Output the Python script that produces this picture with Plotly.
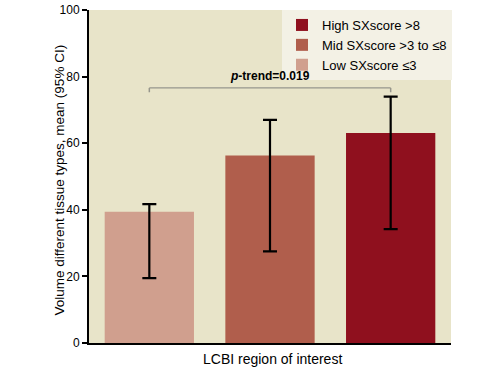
import plotly.graph_objects as go

groups = ["Low SXscore ≤3", "Mid SXscore >3 to ≤8", "High SXscore >8"]
means = [39.4, 56.3, 63.1]
ci_upper = [41.7, 67.0, 74.0]
ci_lower = [19.5, 27.5, 34.2]
colors = ["#d09f8e", "#b05e4c", "#8f101e"]
x_cats = ["Low", "Mid", "High"]
p_text = "<i>p</i>-trend=0.019"
y_title = "Volume different tissue types, mean (95% CI)"
x_title = "LCBI region of interest"

FONT = "Liberation Sans, Arial, sans-serif"

fig = go.Figure()
for g, m, u, l, c, xc in zip(groups, means, ci_upper, ci_lower, colors, x_cats):
    fig.add_trace(go.Bar(
        x=[xc], y=[m], name=g, width=0.74,
        marker=dict(color=c, line=dict(width=0)),
        error_y=dict(type="data", symmetric=False, array=[u - m], arrayminus=[m - l],
                     color="black", thickness=2.2, width=7),
    ))

# p-trend bracket
yb = 76.6
bc = "#96968c"
fig.add_shape(type="line", x0=0, x1=2, y0=yb, y1=yb, xref="x", yref="y",
              line=dict(color=bc, width=1.2))
fig.add_shape(type="line", x0=0, x1=0, y0=yb, y1=yb - 1.3, xref="x", yref="y",
              line=dict(color=bc, width=1.5))
fig.add_shape(type="line", x0=2, x1=2, y0=yb, y1=yb - 1.3, xref="x", yref="y",
              line=dict(color=bc, width=1.5))
fig.add_annotation(x=1, y=yb + 0.9, xref="x", yref="y", text="<b>" + p_text + "</b>",
                   showarrow=False, yanchor="bottom",
                   font=dict(family=FONT, size=12, color="black"))

# axis titles
fig.add_annotation(x=0, y=0.5, xref="paper", yref="paper", text=y_title,
                   textangle=-90, showarrow=False, xanchor="center", yanchor="middle",
                   xshift=-30, yshift=-4,
                   font=dict(family=FONT, size=13.5, color="black"))
fig.add_annotation(x=0.5, y=0, xref="paper", yref="paper", text=x_title,
                   showarrow=False, xanchor="center", yanchor="middle",
                   xshift=2, yshift=-16,
                   font=dict(family=FONT, size=14, color="black"))

fig.update_layout(
    width=502, height=372,
    margin=dict(l=89, r=51, t=10, b=29, autoexpand=False),
    paper_bgcolor="white", plot_bgcolor="#e8e4c9",
    barmode="overlay",
    showlegend=True,
    font=dict(family=FONT, color="black"),
    legend=dict(x=(282 - 89) / 362, y=1.0, xanchor="left", yanchor="top",
                traceorder="reversed", bgcolor="#f3f1e5",
                font=dict(family=FONT, size=13, color="black"),
                itemwidth=30, tracegroupgap=0),
    xaxis=dict(range=[-0.5, 2.5], showticklabels=False, ticks="",
               showline=True, linecolor="black", linewidth=2,
               showgrid=False, zeroline=False, automargin=False),
    yaxis=dict(range=[0, 100], tickvals=[0, 20, 40, 60, 80, 100],
               ticks="outside", ticklen=5, tickwidth=1.5, tickcolor="black",
               showline=True, linecolor="black", linewidth=2,
               showgrid=False, zeroline=False, automargin=False,
               tickfont=dict(family=FONT, size=12, color="black")),
)

fig.write_html("out.html", config={"displayModeBar": False},
               post_script="document.body.style.margin='0';document.body.style.padding='0';")
